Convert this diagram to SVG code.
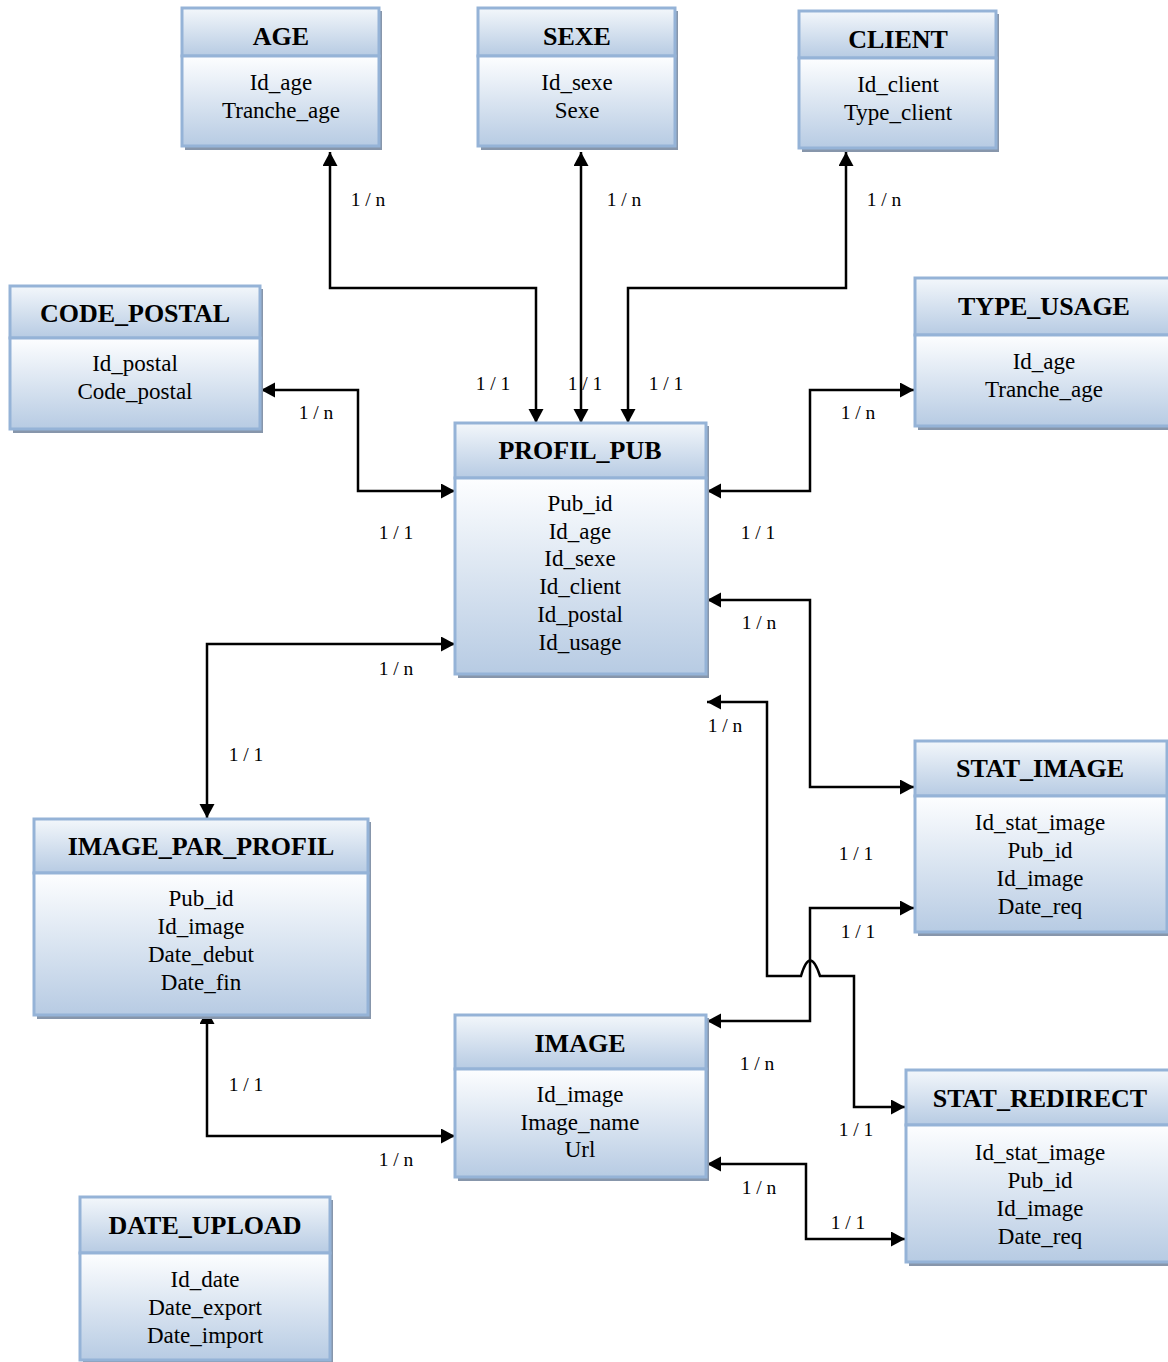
<svg xmlns="http://www.w3.org/2000/svg" width="1168" height="1362" viewBox="0 0 1168 1362">
<style>
.sh{fill:#8796ab}
.hd{fill:url(#gh);stroke:#95b3d7;stroke-width:3}
.bd{fill:url(#gb);stroke:#95b3d7;stroke-width:3}
.t{font-family:"Liberation Serif","Times New Roman",serif;font-weight:bold;font-size:26px;text-anchor:middle;fill:#000}
.b{font-family:"Liberation Serif","Times New Roman",serif;font-size:23px;text-anchor:middle;fill:#000}
.l{font-family:"Liberation Serif","Times New Roman",serif;font-size:19.5px;text-anchor:middle;fill:#000}
.c{fill:none;stroke:#000;stroke-width:2.5}
.a{marker-end:url(#ar)}
.aa{marker-start:url(#ar);marker-end:url(#ar)}
</style>
<defs>
<linearGradient id="gh" x1="0" y1="0" x2="0" y2="1"><stop offset="0" stop-color="#f3f7fb"/><stop offset="1" stop-color="#b7cbe3"/></linearGradient>
<linearGradient id="gb" x1="0" y1="0" x2="0" y2="1"><stop offset="0" stop-color="#fdfeff"/><stop offset="1" stop-color="#b7cbe3"/></linearGradient>
<marker id="ar" markerUnits="userSpaceOnUse" markerWidth="16" markerHeight="16" refX="14" refY="7.5" orient="auto-start-reverse"><path d="M0,0 L14,7.5 L0,15 z" fill="#000"/></marker>
<clipPath id="clipTop"><rect x="0" y="28" width="1168" height="40"/></clipPath>
</defs>
<rect width="1168" height="1362" fill="#fff"/>

<g id="connectors">
<path class="c aa" d="M330,152 V288 H536 V423"/>
<path class="c aa" d="M581,152 V423"/>
<path class="c aa" d="M846,152 V288 H628 V423"/>
<path class="c aa" d="M261,390 H358 V491 H455"/>
<path class="c aa" d="M914,390 H810 V491 H707"/>
<path class="c aa" d="M707,600 H810 V787 H914"/>
<path class="c aa" d="M455,644 H207 V818"/>
<path class="c aa" d="M707,702 H767 V976 H801 Q810,945 820,976 H854 V1107 H905"/>
<path class="c aa" d="M707,1021 H810 V908 H914"/>
<path class="c aa" d="M207,1010 V1136 H455"/>
<path class="c aa" d="M707,1164 H806 V1239 H905"/>
</g>

<g id="labels">
<text class="l" x="368" y="206">1 / n</text>
<text class="l" x="493" y="390">1 / 1</text>
<text class="l" x="624" y="206">1 / n</text>
<text class="l" x="585" y="390">1 / 1</text>
<text class="l" x="884" y="206">1 / n</text>
<text class="l" x="666" y="390">1 / 1</text>
<text class="l" x="316" y="419">1 / n</text>
<text class="l" x="396" y="539">1 / 1</text>
<text class="l" x="858" y="419">1 / n</text>
<text class="l" x="758" y="539">1 / 1</text>
<text class="l" x="759" y="629">1 / n</text>
<text class="l" x="856" y="860">1 / 1</text>
<text class="l" x="396" y="675">1 / n</text>
<text class="l" x="246" y="761">1 / 1</text>
<text class="l" x="725" y="732">1 / n</text>
<text class="l" x="856" y="1136">1 / 1</text>
<text class="l" x="858" y="938">1 / 1</text>
<text class="l" x="757" y="1070">1 / n</text>
<text class="l" x="246" y="1091">1 / 1</text>
<text class="l" x="396" y="1166">1 / n</text>
<text class="l" x="759" y="1194">1 / n</text>
<text class="l" x="848" y="1229">1 / 1</text>
</g>

<g id="AGE">
<rect class="sh" x="185" y="11" width="197" height="139"/>
<rect class="hd" x="182" y="8" width="197" height="48"/>
<rect class="bd" x="182" y="56" width="197" height="90"/>
<text class="t" x="281" y="44.5" clip-path="url(#clipTop)">AGE</text>
<text class="b" x="281" y="90">Id_age</text>
<text class="b" x="281" y="118">Tranche_age</text>
</g>

<g id="SEXE">
<rect class="sh" x="481" y="11" width="197" height="139"/>
<rect class="hd" x="478" y="8" width="197" height="48"/>
<rect class="bd" x="478" y="56" width="197" height="90"/>
<text class="t" x="577" y="44.5" clip-path="url(#clipTop)">SEXE</text>
<text class="b" x="577" y="90">Id_sexe</text>
<text class="b" x="577" y="118">Sexe</text>
</g>

<g id="CLIENT">
<rect class="sh" x="802" y="14" width="197" height="138"/>
<rect class="hd" x="799" y="11" width="197" height="47"/>
<rect class="bd" x="799" y="58" width="197" height="90"/>
<text class="t" x="898" y="48">CLIENT</text>
<text class="b" x="898" y="92">Id_client</text>
<text class="b" x="898" y="120">Type_client</text>
</g>

<g id="CODE_POSTAL">
<rect class="sh" x="13" y="289" width="250" height="144"/>
<rect class="hd" x="10" y="286" width="250" height="52"/>
<rect class="bd" x="10" y="338" width="250" height="91"/>
<text class="t" x="135" y="322">CODE_POSTAL</text>
<text class="b" x="135" y="371">Id_postal</text>
<text class="b" x="135" y="399">Code_postal</text>
</g>

<g id="TYPE_USAGE">
<rect class="sh" x="918" y="281" width="258" height="149"/>
<rect class="hd" x="915" y="278" width="258" height="57"/>
<rect class="bd" x="915" y="335" width="258" height="91"/>
<text class="t" x="1044" y="315">TYPE_USAGE</text>
<text class="b" x="1044" y="369">Id_age</text>
<text class="b" x="1044" y="397">Tranche_age</text>
</g>

<g id="PROFIL_PUB">
<rect class="sh" x="458" y="426" width="251" height="252"/>
<rect class="hd" x="455" y="423" width="251" height="55"/>
<rect class="bd" x="455" y="478" width="251" height="196"/>
<text class="t" x="580" y="459">PROFIL_PUB</text>
<text class="b" x="580" y="511">Pub_id</text>
<text class="b" x="580" y="539">Id_age</text>
<text class="b" x="580" y="566">Id_sexe</text>
<text class="b" x="580" y="594">Id_client</text>
<text class="b" x="580" y="622">Id_postal</text>
<text class="b" x="580" y="650">Id_usage</text>
</g>

<g id="STAT_IMAGE">
<rect class="sh" x="918" y="744" width="252" height="192"/>
<rect class="hd" x="915" y="741" width="252" height="55"/>
<rect class="bd" x="915" y="796" width="252" height="136"/>
<text class="t" x="1040" y="777">STAT_IMAGE</text>
<text class="b" x="1040" y="830">Id_stat_image</text>
<text class="b" x="1040" y="858">Pub_id</text>
<text class="b" x="1040" y="886">Id_image</text>
<text class="b" x="1040" y="914">Date_req</text>
</g>

<g id="IMAGE_PAR_PROFIL">
<rect class="sh" x="37" y="822" width="334" height="197"/>
<rect class="hd" x="34" y="819" width="334" height="54"/>
<rect class="bd" x="34" y="873" width="334" height="142"/>
<text class="t" x="201" y="855">IMAGE_PAR_PROFIL</text>
<text class="b" x="201" y="906">Pub_id</text>
<text class="b" x="201" y="934">Id_image</text>
<text class="b" x="201" y="962">Date_debut</text>
<text class="b" x="201" y="990">Date_fin</text>
</g>

<g id="IMAGE">
<rect class="sh" x="458" y="1018" width="251" height="163"/>
<rect class="hd" x="455" y="1015" width="251" height="54"/>
<rect class="bd" x="455" y="1069" width="251" height="108"/>
<text class="t" x="580" y="1052">IMAGE</text>
<text class="b" x="580" y="1102">Id_image</text>
<text class="b" x="580" y="1130">Image_name</text>
<text class="b" x="580" y="1157">Url</text>
</g>

<g id="STAT_REDIRECT">
<rect class="sh" x="909" y="1073" width="268" height="193"/>
<rect class="hd" x="906" y="1070" width="268" height="55"/>
<rect class="bd" x="906" y="1125" width="268" height="137"/>
<text class="t" x="1040" y="1107">STAT_REDIRECT</text>
<text class="b" x="1040" y="1160">Id_stat_image</text>
<text class="b" x="1040" y="1188">Pub_id</text>
<text class="b" x="1040" y="1216">Id_image</text>
<text class="b" x="1040" y="1244">Date_req</text>
</g>

<g id="DATE_UPLOAD">
<rect class="sh" x="83" y="1200" width="250" height="163"/>
<rect class="hd" x="80" y="1197" width="250" height="56"/>
<rect class="bd" x="80" y="1253" width="250" height="107"/>
<text class="t" x="205" y="1234">DATE_UPLOAD</text>
<text class="b" x="205" y="1287">Id_date</text>
<text class="b" x="205" y="1315">Date_export</text>
<text class="b" x="205" y="1343">Date_import</text>
</g>
</svg>
